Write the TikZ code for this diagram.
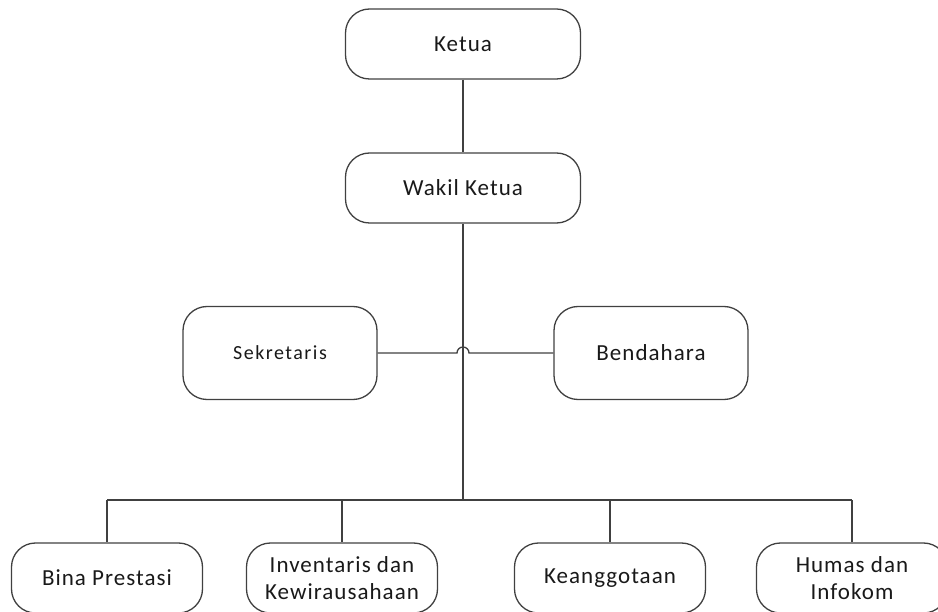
\documentclass[tikz,border=0pt]{standalone}
\usepackage{fontspec}
\setmainfont{Carlito}[LetterSpace=4.5]
\newfontfamily\sekfont{Carlito}[LetterSpace=7.5]
\usetikzlibrary{
	calc					% Allows coordinate calculations
}

\begin{document}
\begin{tikzpicture}[
		x=1pt, y=-1pt
		, orgbox/.style={draw=black!75, line width=1.3pt, rounded corners=24pt, align=center,
			inner sep=0pt, font=\fontsize{23}{27}\selectfont, text=black!90}
		, topbox/.style={orgbox, minimum width=235pt, minimum height=70pt}
		, midbox/.style={orgbox, minimum width=194pt, minimum height=93pt}
		, unitbox/.style={orgbox, minimum width=191pt, minimum height=70pt}
		, orgline/.style={draw=black!75, line width=1.3pt}
	]
	\useasboundingbox (0,0) rectangle (938,612);
	\clip (0,0) rectangle (938,612);

	% Draw the leaders at the top
	\node [topbox] (ketua) at (463,44) {Ketua};
	\node [topbox] (wakil) at (463,188) {Wakil Ketua};
	\path[orgline] (ketua) edge (wakil);

	% Draw the secretary and treasurer
	\node [midbox, font=\sekfont\fontsize{20}{24}\selectfont] (sekretaris) at (280,353) {Sekretaris};
	\node [midbox] (bendahara) at (651,353) {Bendahara};

	% Trunk down to the bus, with the hop over it
	\coordinate (bus) at (463,500);
	\coordinate (hop) at (457,353);
	\path[orgline] (wakil.south) -- (bus);
	\path[orgline] (sekretaris.east) -- (hop) arc[start angle=180, end angle=0, radius=6pt] -- (bendahara.west);

	% Loop through each of the units at the bottom
	\foreach [count=\i] \x/\unit in {107/{Bina Prestasi}, 342/{Inventaris dan\\Kewirausahaan}, 610/{Keanggotaan}, 852/{Humas dan\\Infokom}} {

		% Draw the unit box below the bus
		\node [unitbox] (unit\i) at (\x,578) {\unit};

		% Draw a line from the bus down to the unit
		\path[orgline] (unit\i.north |- bus) -- (unit\i.north);
	};

	% Draw the bus itself
	\path[orgline] (unit1.north |- bus) -- (unit4.north |- bus);
\end{tikzpicture}
\end{document}
